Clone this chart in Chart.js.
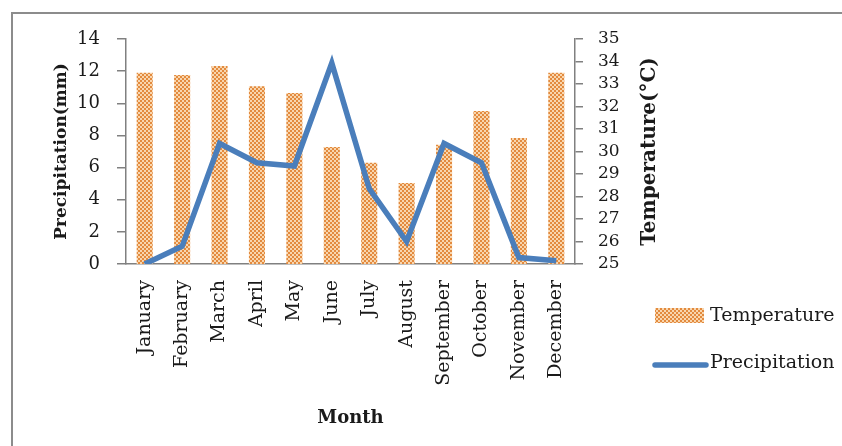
<!DOCTYPE html>
<html>
<head>
<meta charset="utf-8">
<script src="https://cdn.jsdelivr.net/npm/chart.js@4"></script>
<style>
    body { margin: 0; background: #fff; overflow: hidden; }
    #wrap { position: relative; width: 842px; height: 446px; overflow: hidden; }
    .edge { position: absolute; background: #8c8c8c; }
    #edgeTop { left: 11px; top: 12px; width: 1200px; height: 2px; }
    #edgeLeft { left: 11px; top: 12px; width: 2px; height: 800px; }
    #wrap canvas { position: absolute; left: 0; top: 0; }
</style>
</head>
<body>
<div id="wrap">
    <div class="edge" id="edgeTop"></div>
    <div class="edge" id="edgeLeft"></div>
    <canvas id="climateChart" width="842" height="446"></canvas>
</div>
<script>
const months = ['January', 'February', 'March', 'April', 'May', 'June',
    'July', 'August', 'September', 'October', 'November', 'December'];
const temperature = [33.5, 33.4, 33.8, 32.9, 32.6, 30.2, 29.5, 28.6, 30.3, 31.8, 30.6, 33.5];
const precipitation = [0, 1.1, 7.5, 6.3, 6.1, 12.5, 4.7, 1.4, 7.5, 6.3, 0.4, 0.2];
const precipTicks = { min: 0, max: 14, step: 2 };
const tempTicks = { min: 25, max: 35, step: 1 };

const textColor = '#1a1a1a';
const axisColor = '#808080';
const lineColor = '#4a7ebb';
const serif = '"DejaVu Serif", serif';

// Dotted orange fill used by the temperature bars
function makeChecker() {
    const c = document.createElement('canvas');
    c.width = 4; c.height = 4;
    const g = c.getContext('2d');
    g.fillStyle = '#f8d6ae';
    g.fillRect(0, 0, 4, 4);
    g.fillStyle = '#e38a3e';
    g.fillRect(0, 0, 2, 2);
    g.fillRect(2, 2, 2, 2);
    return g.createPattern(c, 'repeat');
}
const checker = makeChecker();

// Right-hand axis title (reads bottom to top) and the side legend
const sideLabels = {
    id: 'sideLabels',
    afterDraw(chart) {
        const ctx = chart.ctx;
        const y1 = chart.scales.y1;
        ctx.save();
        ctx.fillStyle = textColor;
        ctx.font = 'bold 20px ' + serif;
        ctx.textAlign = 'center';
        ctx.textBaseline = 'middle';
        ctx.translate(y1.left + 75, (y1.top + y1.bottom) / 2);
        ctx.rotate(-Math.PI / 2);
        ctx.fillText('Temperature(°C)', 0, 0);
        ctx.restore();

        const bars = chart.data.datasets[0];
        const line = chart.data.datasets[1];
        const lx = 655;
        ctx.save();
        ctx.fillStyle = checker;
        ctx.fillRect(lx, 308, 49, 15);
        ctx.strokeStyle = lineColor;
        ctx.lineWidth = 5.5;
        ctx.lineCap = 'round';
        ctx.beginPath();
        ctx.moveTo(lx, 365);
        ctx.lineTo(lx + 51, 365);
        ctx.stroke();
        ctx.fillStyle = textColor;
        ctx.font = '19px ' + serif;
        ctx.textAlign = 'left';
        ctx.textBaseline = 'middle';
        ctx.fillText(bars.label, 710, 316);
        ctx.fillText(line.label, 710, 363);
        ctx.restore();
    }
};

new Chart(document.getElementById('climateChart'), {
    type: 'bar',
    data: {
        labels: months,
        datasets: [
            {
                type: 'bar',
                label: 'Temperature',
                data: temperature,
                yAxisID: 'y1',
                backgroundColor: checker,
                borderWidth: 0,
                barPercentage: 0.43,
                categoryPercentage: 1,
                order: 1
            },
            {
                type: 'line',
                label: 'Precipitation',
                data: precipitation,
                yAxisID: 'y',
                borderColor: lineColor,
                borderWidth: 5.5,
                pointRadius: 0,
                tension: 0,
                fill: false,
                order: 0
            }
        ]
    },
    options: {
        responsive: false,
        animation: false,
        layout: { padding: { left: 12, right: 167, top: 39, bottom: 0 } },
        plugins: {
            legend: { display: false },
            tooltip: { enabled: false }
        },
        scales: {
            x: {
                afterFit: (s) => { s.height = 182; },
                grid: { display: false, drawTicks: false, tickLength: 0 },
                border: { display: true, color: axisColor, width: 1.5 },
                ticks: {
                    autoSkip: false,
                    minRotation: 90,
                    maxRotation: 90,
                    padding: 16,
                    color: textColor,
                    font: { family: serif, size: 19 }
                },
                title: {
                    display: true,
                    text: 'Month',
                    color: textColor,
                    font: { family: serif, size: 18, weight: 'bold' },
                    padding: { top: 0, bottom: 17 }
                }
            },
            y: {
                position: 'left',
                min: precipTicks.min,
                max: precipTicks.max,
                afterFit: (s) => { s.width = 114; },
                grid: { drawOnChartArea: false, color: axisColor, tickLength: 9, lineWidth: 1.5 },
                border: { display: true, color: axisColor, width: 1.5 },
                ticks: {
                    stepSize: precipTicks.step,
                    padding: 17,
                    color: textColor,
                    font: { family: serif, size: 18 }
                },
                title: {
                    display: true,
                    text: 'Precipitation(mm)',
                    color: textColor,
                    font: { family: serif, size: 17, weight: 'bold' },
                    padding: { top: 39, bottom: 0 }
                }
            },
            y1: {
                position: 'right',
                min: tempTicks.min,
                max: tempTicks.max,
                afterFit: (s) => { s.width = 100; },
                grid: { drawOnChartArea: false, color: axisColor, tickLength: 8, lineWidth: 1.5 },
                border: { display: true, color: axisColor, width: 1.5 },
                ticks: {
                    stepSize: tempTicks.step,
                    autoSkip: false,
                    padding: 15,
                    color: textColor,
                    font: { family: serif, size: 17 }
                }
            }
        }
    },
    plugins: [sideLabels]
});
</script>
</body>
</html>
